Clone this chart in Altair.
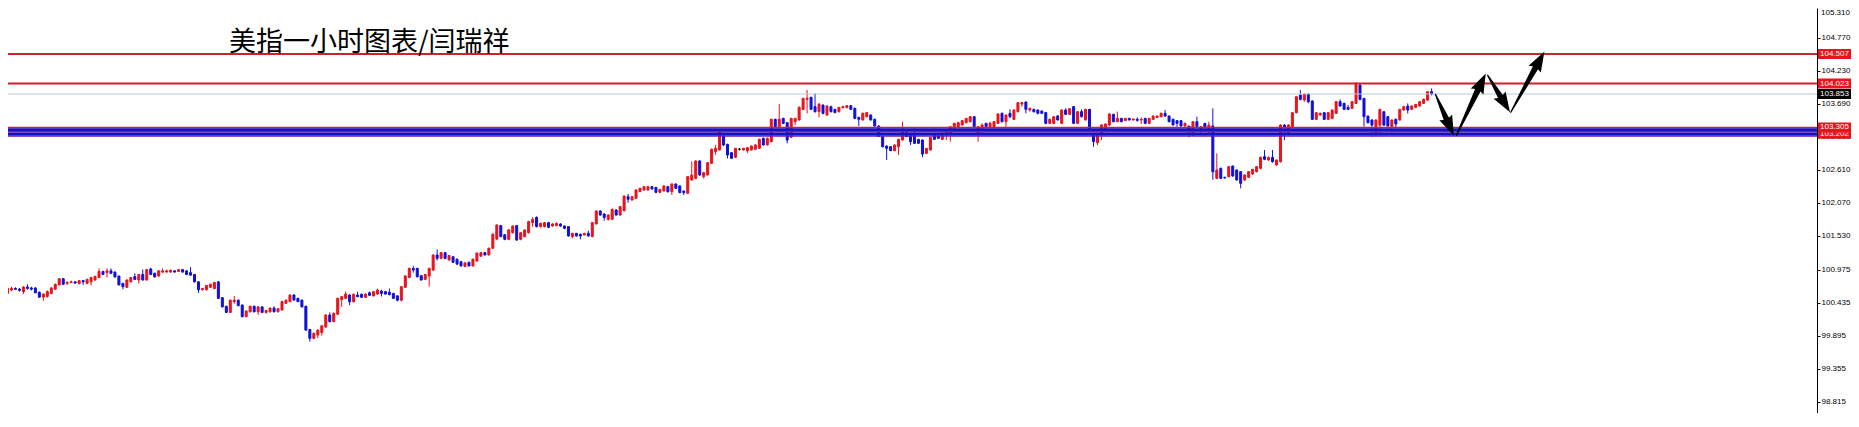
import altair as alt
import pandas as pd
import numpy as np

# ---------------- data (hourly candles) ----------------
opens = [
100.591,100.646,100.673,100.66,100.62,100.695,100.68,100.68,100.61,100.53,
100.54,100.59,100.66,100.73,100.83,100.755,100.77,100.78,100.75,100.80,
100.755,100.78,100.81,100.85,100.95,100.93,100.96,100.94,100.875,100.755,
100.69,100.78,100.864,100.81,100.90,100.81,100.99,100.92,100.875,100.94,
100.94,100.94,100.96,100.95,100.98,100.96,100.93,100.90,100.78,100.65,
100.65,100.69,100.67,100.78,100.52,100.38,100.28,100.455,100.48,100.40,
100.21,100.29,100.38,100.29,100.37,100.28,100.29,100.35,100.29,100.32,
100.43,100.455,100.564,100.51,100.48,100.38,100.00,99.855,99.91,99.95,
100.04,100.237,100.128,100.25,100.49,100.51,100.564,100.455,100.564,100.575,
100.526,100.60,100.55,100.58,100.63,100.62,100.61,100.59,100.55,100.48,
100.69,100.853,101.00,101.00,100.88,100.82,100.875,100.973,101.219,101.164,
101.257,101.137,101.19,101.15,101.11,101.03,101.10,101.04,101.12,101.20,
101.257,101.22,101.33,101.48,101.70,101.55,101.475,101.584,101.70,101.475,
101.52,101.584,101.748,101.835,101.683,101.683,101.748,101.694,101.70,101.726,
101.694,101.683,101.52,101.574,101.557,101.546,101.574,101.52,101.726,101.939,
101.89,101.803,101.803,101.955,101.874,101.944,102.173,102.119,102.146,102.255,
102.283,102.283,102.337,102.326,102.244,102.266,102.337,102.255,102.381,102.348,
102.266,102.228,102.446,102.473,102.757,102.501,102.528,102.719,102.91,102.937,
103.166,103.03,102.893,102.817,102.95,102.937,102.926,102.937,102.948,102.964,
103.128,103.019,103.073,103.439,103.318,103.455,103.384,103.144,103.40,103.428,
103.602,103.766,103.798,103.646,103.564,103.673,103.509,103.646,103.602,103.564,
103.629,103.629,103.662,103.618,103.471,103.428,103.482,103.509,103.439,103.329,
103.155,103.002,102.991,102.926,102.991,103.10,103.22,103.182,103.182,103.111,
103.10,102.882,102.937,103.182,103.166,103.111,103.182,103.209,103.291,103.318,
103.346,103.384,103.40,103.482,103.209,103.291,103.373,103.318,103.318,103.373,
103.537,103.40,103.537,103.439,103.564,103.689,103.722,103.591,103.602,103.591,
103.575,103.548,103.373,103.373,103.493,103.373,103.591,103.52,103.646,103.373,
103.564,103.428,103.602,103.20,103.057,103.182,103.264,103.346,103.52,103.40,
103.455,103.417,103.455,103.428,103.439,103.428,103.455,103.373,103.439,103.471,
103.482,103.537,103.493,103.439,103.417,103.417,103.329,103.329,103.182,103.40,
103.264,103.373,103.24,103.33,102.473,102.636,102.489,102.50,102.675,102.609,
102.582,102.446,102.489,102.544,102.582,102.636,102.827,102.773,102.816,102.691,
102.745,103.345,103.209,103.318,103.547,103.836,103.754,103.852,103.738,103.438,
103.509,103.547,103.438,103.454,103.536,103.727,103.70,103.634,103.618,103.70,
104.00,103.781,103.492,103.427,103.209,103.345,103.563,103.482,103.318,103.438,
103.427,103.591,103.656,103.602,103.634,103.656,103.70,103.754,103.891,
]
highs = [
100.69,100.70,100.69,100.68,100.71,100.74,100.70,100.69,100.62,100.59,
100.64,100.69,100.75,100.84,100.84,100.79,100.80,100.79,100.81,100.81,
100.83,100.86,100.88,101.00,100.96,101.00,101.00,100.95,100.88,100.76,
100.82,100.86,100.92,100.91,100.98,100.99,101.01,100.93,100.97,101.00,
100.98,100.98,100.97,100.99,100.99,100.97,101.02,100.91,100.79,100.68,
100.73,100.75,100.78,100.79,100.53,100.39,100.49,100.55,100.49,100.41,
100.32,100.39,100.39,100.38,100.38,100.32,100.36,100.38,100.35,100.47,
100.49,100.57,100.58,100.52,100.49,100.39,100.01,99.95,100.00,100.07,
100.25,100.28,100.28,100.52,100.55,100.62,100.58,100.59,100.62,100.59,
100.59,100.62,100.63,100.67,100.65,100.63,100.67,100.60,100.56,100.71,
100.89,101.01,101.04,101.01,100.89,100.91,101.01,101.23,101.31,101.27,
101.27,101.22,101.20,101.16,101.12,101.10,101.11,101.16,101.26,101.27,
101.27,101.34,101.57,101.72,101.71,101.56,101.64,101.70,101.71,101.59,
101.64,101.78,101.84,101.85,101.75,101.76,101.76,101.74,101.75,101.74,
101.70,101.69,101.58,101.58,101.57,101.58,101.617,101.76,101.95,101.95,
101.90,101.88,101.98,101.97,102.02,102.19,102.217,102.18,102.29,102.32,
102.35,102.35,102.35,102.33,102.30,102.36,102.35,102.39,102.39,102.36,
102.27,102.51,102.75,102.77,102.77,102.58,102.74,102.96,103.02,103.28,
103.18,103.04,102.90,102.97,102.97,102.97,102.98,103.01,103.03,103.12,
103.14,103.14,103.45,103.45,103.689,103.46,103.39,103.46,103.46,103.65,
103.79,103.918,103.81,103.864,103.70,103.68,103.67,103.66,103.61,103.64,
103.66,103.67,103.67,103.63,103.48,103.55,103.56,103.52,103.45,103.34,
103.16,103.01,103.00,103.03,103.12,103.40,103.23,103.19,103.29,103.12,
103.11,102.97,103.15,103.19,103.18,103.22,103.27,103.33,103.38,103.40,
103.43,103.46,103.49,103.49,103.33,103.373,103.38,103.40,103.41,103.54,
103.55,103.52,103.602,103.60,103.72,103.728,103.73,103.63,103.61,103.60,
103.58,103.56,103.45,103.49,103.509,103.60,103.618,103.62,103.657,103.57,
103.602,103.61,103.61,103.21,103.22,103.36,103.37,103.54,103.53,103.564,
103.46,103.46,103.46,103.45,103.471,103.471,103.46,103.46,103.50,103.50,
103.55,103.591,103.50,103.45,103.42,103.42,103.384,103.33,103.41,103.482,
103.33,103.38,103.40,103.62,102.882,102.65,102.50,102.67,102.68,102.62,
102.59,102.54,102.59,102.63,102.67,102.83,102.936,102.83,102.936,102.78,
103.36,103.36,103.36,103.56,103.82,103.918,103.86,103.86,103.75,103.56,
103.55,103.56,103.56,103.60,103.74,103.765,103.71,103.672,103.74,104.043,
104.027,103.79,103.50,103.44,103.44,103.61,103.57,103.49,103.44,103.454,
103.61,103.66,103.70,103.67,103.69,103.74,103.78,103.90,103.945,
]
lows = [
100.58,100.63,100.65,100.62,100.58,100.65,100.64,100.60,100.52,100.47,
100.52,100.58,100.65,100.72,100.73,100.73,100.76,100.75,100.74,100.73,
100.74,100.72,100.80,100.84,100.89,100.85,100.91,100.85,100.72,100.66,
100.68,100.77,100.81,100.75,100.80,100.80,100.89,100.85,100.86,100.92,
100.93,100.93,100.93,100.94,100.93,100.89,100.88,100.77,100.60,100.64,
100.64,100.68,100.66,100.50,100.36,100.27,100.27,100.42,100.38,100.20,
100.20,100.28,100.28,100.24,100.27,100.26,100.28,100.28,100.28,100.31,
100.42,100.45,100.47,100.45,100.36,99.98,99.80,99.84,99.86,99.90,
100.03,100.12,100.12,100.24,100.37,100.50,100.40,100.44,100.53,100.52,
100.52,100.55,100.54,100.57,100.54,100.57,100.56,100.50,100.46,100.46,
100.68,100.84,100.93,100.85,100.80,100.81,100.70,100.96,101.13,101.15,
101.15,101.13,101.09,101.06,101.03,101.02,101.03,101.03,101.11,101.19,
101.21,101.21,101.32,101.46,101.51,101.46,101.46,101.57,101.45,101.46,
101.51,101.57,101.68,101.67,101.67,101.67,101.66,101.68,101.69,101.68,
101.64,101.52,101.49,101.52,101.475,101.54,101.52,101.51,101.72,101.86,
101.78,101.78,101.79,101.86,101.86,101.93,102.075,102.11,102.14,102.25,
102.27,102.27,102.29,102.23,102.23,102.26,102.24,102.20,102.30,102.23,
102.20,102.22,102.44,102.46,102.51,102.47,102.52,102.71,102.86,102.93,
103.00,102.80,102.79,102.81,102.93,102.93,102.89,102.93,102.94,102.96,
103.01,103.01,103.06,103.31,103.31,103.36,103.046,103.13,103.346,103.42,
103.59,103.537,103.59,103.55,103.471,103.52,103.50,103.55,103.54,103.55,
103.62,103.62,103.59,103.44,103.329,103.42,103.47,103.42,103.32,103.15,
102.98,102.773,102.92,102.92,102.855,103.09,103.15,103.019,103.04,103.04,
102.817,102.87,102.93,103.10,103.12,103.10,103.10,103.073,103.28,103.31,
103.34,103.37,103.39,103.31,103.073,103.209,103.31,103.31,103.31,103.36,
103.39,103.318,103.455,103.43,103.55,103.646,103.537,103.564,103.55,103.52,
103.53,103.36,103.36,103.36,103.42,103.36,103.51,103.51,103.36,103.36,
103.47,103.42,103.24,102.991,103.019,103.10,103.25,103.33,103.39,103.39,
103.39,103.41,103.42,103.42,103.40,103.362,103.36,103.36,103.43,103.46,
103.47,103.48,103.39,103.34,103.318,103.32,103.32,103.144,103.17,103.31,
103.182,103.29,103.18,102.45,102.46,102.46,102.47,102.49,102.50,102.44,
102.309,102.43,102.48,102.53,102.57,102.62,102.77,102.76,102.73,102.68,
102.73,103.10,103.18,103.31,103.54,103.75,103.727,103.70,103.43,103.43,
103.50,103.43,103.43,103.44,103.53,103.65,103.59,103.59,103.61,103.69,
103.75,103.318,103.37,103.154,103.154,103.154,103.33,103.32,103.22,103.307,
103.42,103.58,103.536,103.59,103.62,103.65,103.69,103.74,103.83,
]
closes = [
100.673,100.673,100.657,100.64,100.695,100.673,100.66,100.60,100.53,100.58,
100.62,100.68,100.74,100.83,100.74,100.77,100.78,100.76,100.80,100.78,
100.82,100.85,100.87,100.95,100.90,100.96,100.92,100.86,100.73,100.70,
100.81,100.85,100.82,100.90,100.81,100.98,100.90,100.86,100.96,100.96,
100.96,100.97,100.94,100.98,100.94,100.90,100.89,100.78,100.65,100.67,
100.72,100.74,100.77,100.51,100.37,100.28,100.48,100.48,100.39,100.21,
100.30,100.38,100.29,100.37,100.28,100.31,100.35,100.29,100.34,100.455,
100.48,100.564,100.482,100.455,100.37,99.99,99.855,99.937,99.99,100.06,
100.237,100.128,100.264,100.51,100.537,100.58,100.455,100.575,100.537,100.526,
100.58,100.56,100.62,100.646,100.59,100.58,100.57,100.51,100.48,100.70,
100.875,101.00,100.973,100.864,100.81,100.90,101.00,101.219,101.164,101.257,
101.164,101.21,101.10,101.07,101.04,101.09,101.04,101.15,101.25,101.257,
101.22,101.33,101.56,101.71,101.52,101.475,101.63,101.694,101.464,101.584,
101.628,101.765,101.803,101.683,101.737,101.748,101.672,101.726,101.737,101.694,
101.655,101.53,101.574,101.53,101.53,101.574,101.53,101.748,101.939,101.874,
101.835,101.874,101.966,101.874,102.01,102.184,102.13,102.173,102.283,102.31,
102.337,102.337,102.30,102.244,102.293,102.348,102.255,102.381,102.31,102.239,
102.239,102.501,102.528,102.757,102.528,102.566,102.73,102.948,102.964,103.264,
103.019,102.855,102.801,102.964,102.95,102.964,102.975,103.002,103.019,103.111,
103.019,103.128,103.439,103.318,103.439,103.373,103.10,103.455,103.455,103.635,
103.782,103.782,103.602,103.564,103.689,103.537,103.657,103.564,103.548,103.635,
103.646,103.662,103.602,103.455,103.439,103.537,103.548,103.428,103.329,103.16,
102.991,102.964,102.926,103.019,103.111,103.237,103.155,103.073,103.046,103.046,
102.871,102.964,103.144,103.111,103.128,103.209,103.264,103.318,103.373,103.384,
103.417,103.455,103.482,103.318,103.318,103.346,103.318,103.373,103.40,103.526,
103.40,103.509,103.482,103.591,103.711,103.711,103.602,103.618,103.564,103.537,
103.537,103.373,103.439,103.482,103.428,103.591,103.52,103.613,103.373,103.564,
103.482,103.602,103.25,103.073,103.209,103.346,103.362,103.526,103.40,103.455,
103.40,103.455,103.428,103.444,103.422,103.439,103.373,103.455,103.493,103.493,
103.537,103.493,103.40,103.346,103.373,103.329,103.373,103.264,103.40,103.318,
103.318,103.30,103.345,102.58,102.609,102.473,102.48,102.664,102.511,102.446,
102.391,102.527,102.582,102.62,102.664,102.816,102.784,102.816,102.745,102.773,
103.345,103.307,103.345,103.547,103.809,103.765,103.852,103.727,103.438,103.547,
103.536,103.438,103.547,103.591,103.727,103.656,103.602,103.602,103.727,104.027,
103.765,103.482,103.384,103.345,103.427,103.602,103.345,103.329,103.427,103.362,
103.602,103.645,103.591,103.656,103.683,103.727,103.765,103.891,103.853,
]

# horizontal price levels drawn on the chart
level_prices = [104.507, 104.023, 103.853, 103.305, 103.202]
level_colors = ["#d0202a", "#d0202a", "#b8cad8", "#d0202a", "#d0202a"]
level_widths = [2, 2, 1, 1.5, 1.5]
band_prices = [103.270, 103.236, 103.198, 103.166]
band_colors = ["#1a0fc8", "#8a1a9a", "#1a0fc8", "#6a18a8"]
band_widths = [3, 1.5, 3, 1.5]

# price tags on the right edge (drawn in this order)
tag_prices = [104.507, 104.023, 103.853, 103.202, 103.305]
tag_fill = ["#e8141c", "#e8141c", "#000000", "#e8141c", "#e8141c"]

# forecast arrows: (start index, start price) -> (tip index, tip price)
arrow_x0 = [358.98, 364.25, 372.1, 377.9]
arrow_y0 = [103.846, 103.180, 104.159, 103.555]
arrow_x1 = [363.6, 371.6, 377.7, 386.35]
arrow_y1 = [103.170, 104.188, 103.555, 104.547]

tick_values = [98.815, 99.355, 99.895, 100.435, 100.975, 101.530, 102.070,
               102.610, 103.150, 103.690, 104.230, 104.770]
top_tick_label = "105.310"

title_text = "美指一小时图表/闫瑞祥"

# ---------------- layout ----------------
W, H = 1809, 405
RIGHT = 34
X_DOMAIN = [1.375, 453.625]          # 4 px per candle
Y_DOMAIN = [98.634, 105.260]
PX_PER_X = W / (X_DOMAIN[1] - X_DOMAIN[0])
PX_PER_Y = H / (Y_DOMAIN[1] - Y_DOMAIN[0])
FONT = "Liberation Sans"
FS = 8

xs = alt.Scale(domain=X_DOMAIN, nice=False, zero=False)
ys = alt.Scale(domain=Y_DOMAIN, nice=False, zero=False)
Y_AX = alt.Axis(orient="right", values=tick_values, format=".3f", title=None,
                grid=False, labelFont=FONT, labelFontSize=FS,
                labelColor="black", tickColor="black", tickSize=3,
                domainColor="black", domainWidth=1, labelPadding=1,
                labelOverlap=False, labelFlush=False, labelBound=False)

o = np.array(opens); c = np.array(closes)
df = pd.DataFrame({"i": np.arange(len(opens)), "o": o, "h": highs, "l": lows, "c": c,
                   "dir": np.where(c > o, "up", np.where(c < o, "down", "flat"))})
col = alt.Color("dir:N", scale=alt.Scale(domain=["up", "down", "flat"],
                                         range=["#e8141c", "#1010d8", "#000000"]),
                legend=None)

base = alt.Chart(df)
wicks = base.mark_rule(strokeWidth=1, clip=True).encode(
    x=alt.X("i:Q", scale=xs, axis=None),
    y=alt.Y("l:Q", scale=ys, axis=Y_AX), y2="h:Q", color=col)
bodies = base.mark_bar(size=2, strokeWidth=1, clip=True).encode(
    x=alt.X("i:Q", scale=xs, axis=None),
    y=alt.Y("o:Q", scale=ys, axis=Y_AX), y2="c:Q", color=col, stroke=col)

lv = pd.DataFrame({"p": level_prices + band_prices,
                   "col": level_colors + band_colors,
                   "sw": level_widths + band_widths})
lines = alt.Chart(lv).mark_rule().encode(
    y=alt.Y("p:Q", scale=ys, axis=Y_AX),
    color=alt.Color("col:N", scale=None),
    strokeWidth=alt.StrokeWidth("sw:Q", scale=None))

# arrows: tapered shaft (trail) + triangular head (custom symbol)
HEAD = 20.0
shaft_rows, head_rows = [], []
for k in range(len(arrow_x0)):
    ddx = arrow_x1[k] - arrow_x0[k]
    ddy = arrow_y1[k] - arrow_y0[k]
    sx, sy = ddx * PX_PER_X, -ddy * PX_PER_Y      # screen direction
    L = float(np.hypot(sx, sy))
    tn = 1 - (HEAD - 3) / L
    for t, w in [(0.0, 1.3), (tn, 6.0)]:
        shaft_rows.append({"arrow": k, "t": t, "w": w,
                           "ax": arrow_x0[k] + t * ddx, "ay": arrow_y0[k] + t * ddy})
    th = 1 - (HEAD / 2) / L
    ang = float(np.degrees(np.arctan2(sx, -sy))) % 360
    head_rows.append({"ax": arrow_x0[k] + th * ddx, "ay": arrow_y0[k] + th * ddy, "ang": ang})
sdf = pd.DataFrame(shaft_rows)
hdf = pd.DataFrame(head_rows)
shafts = alt.Chart(sdf).mark_trail(color="black").encode(
    x=alt.X("ax:Q", scale=xs, axis=None),
    y=alt.Y("ay:Q", scale=ys, axis=Y_AX),
    size=alt.Size("w:Q", scale=None, legend=None),
    detail="arrow:N", order="t:Q")
heads = alt.Chart(hdf).mark_point(
    shape="M0,-1L0.7,1L0,0.75L-0.7,1Z", filled=True, color="black", opacity=1,
    size=HEAD * HEAD, strokeWidth=0).encode(
    x=alt.X("ax:Q", scale=xs, axis=None),
    y=alt.Y("ay:Q", scale=ys, axis=Y_AX),
    angle=alt.Angle("ang:Q", scale=None))

# price tags
half = 5.0 / PX_PER_Y
tag_layers = []
for k in range(len(tag_prices)):
    p = tag_prices[k]
    one = alt.Chart(pd.DataFrame({"p": [p], "top": [p + half], "bot": [p - half],
                                  "fill": [tag_fill[k]], "lbl": [f"{p:.3f}"]}))
    tag_layers.append(one.mark_rect().encode(
        x=alt.value(W + 1), x2=alt.value(W + RIGHT),
        y=alt.Y("top:Q", scale=ys, axis=Y_AX), y2="bot:Q",
        color=alt.Color("fill:N", scale=None)))
    tag_layers.append(one.mark_text(align="left", baseline="middle", font=FONT,
                                    fontSize=FS, color="white").encode(
        x=alt.value(W + 3), y=alt.Y("p:Q", scale=ys, axis=Y_AX), text="lbl:N"))

# the top axis label sits above the drawable area of the page; keep it visible
top_lbl = alt.Chart(pd.DataFrame({"t": [top_tick_label]})).mark_text(
    align="left", baseline="middle", font=FONT, fontSize=FS, color="black").encode(
    x=alt.value(W + 4), y=alt.value(5), text="t:N")

title = alt.Chart(pd.DataFrame({"t": [title_text]})).mark_text(
    align="left", baseline="alphabetic", font="Noto Sans CJK SC", fontSize=27,
    color="black").encode(x=alt.value(221), y=alt.value(43), text="t:N")

chart = alt.layer(wicks, bodies, lines, shafts, heads, title, top_lbl, *tag_layers).properties(
    width=W, height=H,
    autosize=alt.AutoSizeParams(type="none"),
    padding={"left": 0, "top": 0, "right": RIGHT, "bottom": 0}
).configure_view(stroke=None)

chart.save("out.html", embed_options={"renderer": "svg", "actions": False})
